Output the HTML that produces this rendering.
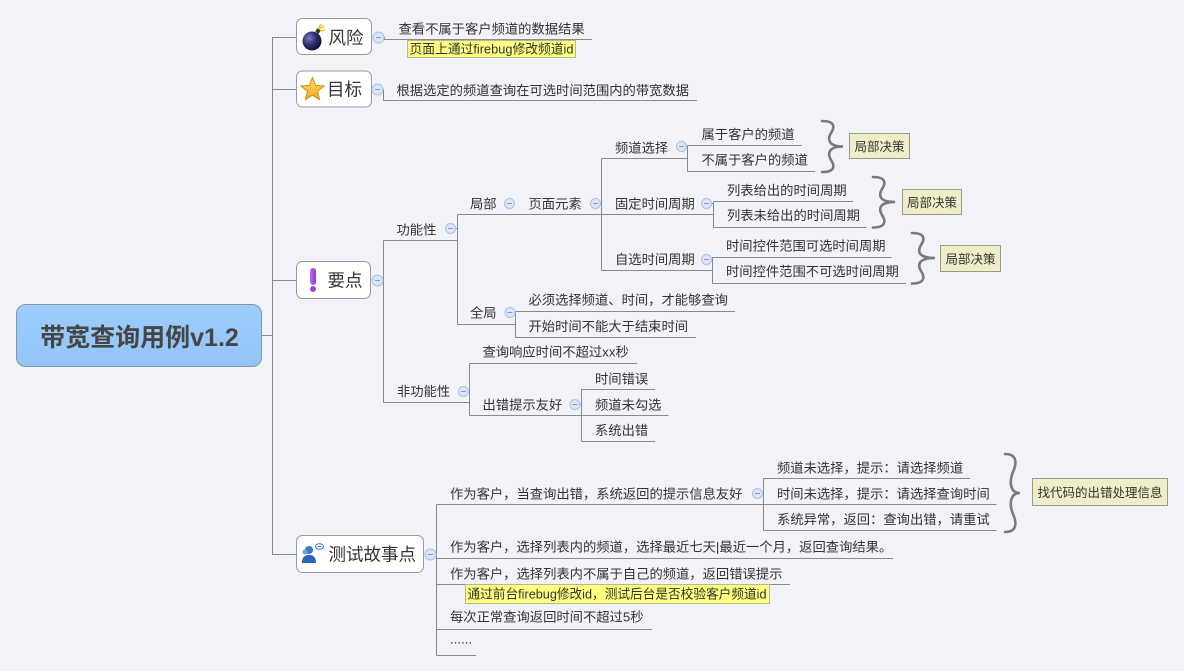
<!DOCTYPE html>
<html><head><meta charset="utf-8"><style>
html,body{margin:0;padding:0;background:#f2f3f9;}
svg{display:block;font-family:"Liberation Sans","Noto Sans CJK SC",sans-serif;}
text{fill:#333;}
</style></head><body>
<svg width="1184" height="671" viewBox="0 0 1184 671" xmlns="http://www.w3.org/2000/svg">
<defs>
<radialGradient id="bomb" cx="0.35" cy="0.35" r="0.7"><stop offset="0" stop-color="#7a80c0"/><stop offset="0.5" stop-color="#2e3270"/><stop offset="1" stop-color="#101230"/></radialGradient>
<linearGradient id="star" x1="0" y1="0" x2="0" y2="1"><stop offset="0" stop-color="#ffe066"/><stop offset="1" stop-color="#f3a521"/></linearGradient>
<linearGradient id="purp" x1="0" y1="0" x2="1" y2="0"><stop offset="0" stop-color="#b86cf0"/><stop offset="1" stop-color="#8a3ad8"/></linearGradient>
<linearGradient id="root" x1="0" y1="0" x2="0" y2="1"><stop offset="0" stop-color="#9dcdfd"/><stop offset="1" stop-color="#94c5f8"/></linearGradient>
</defs>

<rect width="1184" height="671" fill="#f2f3f9"/>

<g stroke="#8a8a8a" stroke-width="1" fill="none">
<!-- main trunk -->
<line x1="262" y1="335.5" x2="272.5" y2="335.5"/>
<line x1="272.5" y1="37" x2="272.5" y2="555"/>
<line x1="272.5" y1="37.5" x2="296" y2="37.5"/>
<line x1="272.5" y1="89.5" x2="296" y2="89.5"/>
<line x1="272.5" y1="280.5" x2="296" y2="280.5"/>
<line x1="272.5" y1="554.5" x2="296" y2="554.5"/>

<!-- 风险 -->
<polyline points="383.5,37.5 384.5,37.5 384.5,39.5 592,39.5"/>
<!-- 目标 -->
<polyline points="382.5,89.5 383.5,89.5 383.5,100.5 697,100.5"/>

<!-- 要点 -->
<line x1="382.5" y1="280.5" x2="383.5" y2="280.5"/>
<line x1="383.5" y1="240.5" x2="383.5" y2="402.5"/>
<line x1="383.5" y1="240.5" x2="457.5" y2="240.5"/>
<line x1="383.5" y1="402.5" x2="469.5" y2="402.5"/>
<line x1="455.5" y1="228.5" x2="457.5" y2="228.5"/>
<line x1="457.5" y1="214.5" x2="457.5" y2="324.5"/>
<line x1="457.5" y1="214.5" x2="601.5" y2="214.5"/>
<line x1="457.5" y1="324.5" x2="515.5" y2="324.5"/>
<line x1="600.5" y1="203.5" x2="601.5" y2="203.5"/>
<line x1="601.5" y1="158.5" x2="601.5" y2="270.5"/>
<line x1="601.5" y1="158.5" x2="687.5" y2="158.5"/>
<line x1="601.5" y1="214.5" x2="713.5" y2="214.5"/>
<line x1="601.5" y1="270.5" x2="712.5" y2="270.5"/>
<line x1="686.5" y1="146.5" x2="687.5" y2="146.5"/>
<line x1="687.5" y1="145.5" x2="687.5" y2="171.5"/>
<line x1="687.5" y1="145.5" x2="801.5" y2="145.5"/>
<line x1="687.5" y1="171.5" x2="815" y2="171.5"/>
<line x1="711.5" y1="203.5" x2="713.5" y2="203.5"/>
<line x1="713.5" y1="201.5" x2="713.5" y2="227.5"/>
<line x1="713.5" y1="201.5" x2="853" y2="201.5"/>
<line x1="713.5" y1="227.5" x2="866.5" y2="227.5"/>
<line x1="711.5" y1="259.5" x2="712.5" y2="259.5"/>
<line x1="712.5" y1="257.5" x2="712.5" y2="283.5"/>
<line x1="712.5" y1="257.5" x2="891.5" y2="257.5"/>
<line x1="712.5" y1="283.5" x2="906" y2="283.5"/>
<line x1="515" y1="312.5" x2="515.5" y2="312.5"/>
<line x1="515.5" y1="311.5" x2="515.5" y2="337.5"/>
<line x1="515.5" y1="311.5" x2="735" y2="311.5"/>
<line x1="515.5" y1="337.5" x2="696" y2="337.5"/>
<line x1="468.5" y1="391.5" x2="469.5" y2="391.5"/>
<line x1="469.5" y1="363.5" x2="469.5" y2="415.5"/>
<line x1="469.5" y1="363.5" x2="637" y2="363.5"/>
<line x1="469.5" y1="415.5" x2="581.5" y2="415.5"/>
<line x1="580" y1="404.5" x2="581.5" y2="404.5"/>
<line x1="581.5" y1="389.5" x2="581.5" y2="441.5"/>
<line x1="581.5" y1="389.5" x2="655" y2="389.5"/>
<line x1="581.5" y1="415.5" x2="668.5" y2="415.5"/>
<line x1="581.5" y1="441.5" x2="655" y2="441.5"/>

<!-- 测试故事点 -->
<line x1="435.5" y1="554.5" x2="436.5" y2="554.5"/>
<line x1="436.5" y1="504.5" x2="436.5" y2="655.5"/>
<line x1="436.5" y1="504.5" x2="763.5" y2="504.5"/>
<line x1="436.5" y1="558.5" x2="893" y2="558.5"/>
<line x1="436.5" y1="584.5" x2="790" y2="584.5"/>
<line x1="436.5" y1="629.5" x2="652" y2="629.5"/>
<line x1="436.5" y1="655.5" x2="476" y2="655.5"/>
<line x1="762.5" y1="493.5" x2="763.5" y2="493.5"/>
<line x1="763.5" y1="478.5" x2="763.5" y2="530.5"/>
<line x1="763.5" y1="478.5" x2="970" y2="478.5"/>
<line x1="763.5" y1="504.5" x2="996.5" y2="504.5"/>
<line x1="763.5" y1="530.5" x2="996.5" y2="530.5"/>
</g>

<!-- braces -->
<g stroke="#7a7a7a" stroke-width="2.6" fill="none" stroke-linecap="round">
<path d="M822,121 C835,121 835,127 831,133 C827,140 829,146.5 843,146.5 C829,146.5 827,153 831,160 C835,166 835,172 822,172"/>
<path d="M873,177 C886,177 886,183 882,189 C878,196 880,202 895,202 C880,202 878,208 882,215 C886,221 886,227.5 873,227.5"/>
<path d="M912,233 C925,233 925,239 921,245 C917,252 919,258 935,258 C919,258 917,264 921,271 C925,277 925,283.5 912,283.5"/>
<path d="M1005,454 C1017,454 1017,463 1013,472 C1009,482 1010,493 1020,493 C1010,493 1009,504 1013,514 C1017,523 1017,532 1005,532"/>
</g>

<!-- root -->
<rect x="16.5" y="304.5" width="245" height="62" rx="9" fill="url(#root)" stroke="#8797a8"/>
<text x="139.5" y="346" text-anchor="middle" font-size="25" font-weight="bold" style="fill:#464646">带宽查询用例v1.2</text>

<!-- level1 boxes -->
<g fill="#fff" stroke="#9a9a9a">
<rect x="296.5" y="18.5" width="75" height="36" rx="6"/>
<rect x="296.5" y="71" width="75" height="36" rx="6"/>
<rect x="296.5" y="261.5" width="74" height="37" rx="6"/>
<rect x="296.5" y="535.5" width="127" height="37" rx="6"/>
</g>

<!-- icons -->
<circle cx="312" cy="41" r="9.5" fill="url(#bomb)"/>
<rect x="316" y="29" width="4" height="4" fill="#333" transform="rotate(40 318 31)"/>
<path d="M319,29 L324,26 M320,31 L325,30 M319,28 L321,24" stroke="#f2c200" stroke-width="1.5"/>
<polygon points="312.5,77.5 315.6,85.4 324,86 317.5,91.4 319.6,99.7 312.5,95.1 305.4,99.7 307.5,91.4 301,86 309.4,85.4" fill="url(#star)" stroke="#d08a10" stroke-width="1"/>
<rect x="310" y="268" width="6" height="17" rx="3" fill="url(#purp)"/>
<circle cx="313" cy="289" r="3" fill="#9a48e0"/>
<circle cx="309" cy="550" r="4" fill="#3b78cf"/>
<path d="M302,563 C302,556 306,555 309,555 C312,555 316,556 316,563 Z" fill="#2d63b8"/>
<circle cx="305" cy="552" r="2.5" fill="#6a9de0"/>
<ellipse cx="319.5" cy="546.5" rx="4" ry="2.8" fill="#fff" stroke="#3a6fc0" stroke-width="1"/>
<path d="M317.5,546.5 L321.5,546.5" stroke="#3a6fc0" stroke-width="0.8"/>

<!-- level1 text -->
<g font-size="17.5">
<text x="328.5" y="44">风险</text>
<text x="327" y="95.7">目标</text>
<text x="327.5" y="286.7">要点</text>
<text x="328.5" y="560.7">测试故事点</text>
</g>

<!-- collapse circles -->
<g fill="#dce6f6" stroke="#a9c0e6" stroke-width="1">
<circle cx="378.5" cy="37.5" r="5.5"/>
<circle cx="377.5" cy="89.5" r="5.5"/>
<circle cx="377.5" cy="280.5" r="5.5"/>
<circle cx="430.5" cy="554.5" r="5.5"/>
<circle cx="450.5" cy="228.5" r="5"/>
<circle cx="509.5" cy="203.5" r="5"/>
<circle cx="595.5" cy="203.5" r="5"/>
<circle cx="681.5" cy="146.5" r="5"/>
<circle cx="706.5" cy="203.5" r="5"/>
<circle cx="706.5" cy="259.5" r="5"/>
<circle cx="510" cy="312.5" r="5"/>
<circle cx="463.5" cy="391.5" r="5"/>
<circle cx="575" cy="404.5" r="5"/>
<circle cx="757.5" cy="493.5" r="5"/>
</g>
<g stroke="#7f9ccf" stroke-width="1">
<line x1="376" y1="37.5" x2="381" y2="37.5"/>
<line x1="375" y1="89.5" x2="380" y2="89.5"/>
<line x1="375" y1="280.5" x2="380" y2="280.5"/>
<line x1="428" y1="554.5" x2="433" y2="554.5"/>
<line x1="448" y1="228.5" x2="453" y2="228.5"/>
<line x1="507" y1="203.5" x2="512" y2="203.5"/>
<line x1="593" y1="203.5" x2="598" y2="203.5"/>
<line x1="679" y1="146.5" x2="684" y2="146.5"/>
<line x1="704" y1="203.5" x2="709" y2="203.5"/>
<line x1="704" y1="259.5" x2="709" y2="259.5"/>
<line x1="507.5" y1="312.5" x2="512.5" y2="312.5"/>
<line x1="461" y1="391.5" x2="466" y2="391.5"/>
<line x1="572.5" y1="404.5" x2="577.5" y2="404.5"/>
<line x1="755" y1="493.5" x2="760" y2="493.5"/>
</g>

<!-- yellow notes -->
<rect x="407.5" y="40.5" width="168" height="17" fill="#ffff80" stroke="#b8b890"/>
<rect x="465.5" y="584.5" width="304" height="19" fill="#ffff80" stroke="#b8b890"/>
<text x="409.5" y="53.6" font-size="13.3" textLength="164" lengthAdjust="spacingAndGlyphs">页面上通过firebug修改频道id</text>
<text x="467.5" y="598.6" font-size="13.3" textLength="299" lengthAdjust="spacingAndGlyphs">通过前台firebug修改id，测试后台是否校验客户频道id</text>

<!-- beige label boxes -->
<g fill="#f0eec8" stroke="#9a9a8a">
<rect x="849.5" y="133.5" width="60" height="25"/>
<rect x="902.5" y="189.5" width="59" height="25"/>
<rect x="940.5" y="245.5" width="60" height="26"/>
<rect x="1032.5" y="478.5" width="135" height="27"/>
</g>
<g font-size="12.5" text-anchor="middle">
<text x="879.5" y="150.8">局部决策</text>
<text x="932" y="206.8">局部决策</text>
<text x="970.5" y="263.3">局部决策</text>
<text x="1100" y="496.8">找代码的出错处理信息</text>
</g>

<!-- node texts -->
<g font-size="13.3">
<text x="398.5" y="33.3">查看不属于客户频道的数据结果</text>
<text x="396.5" y="95">根据选定的频道查询在可选时间范围内的带宽数据</text>

<text x="396.5" y="234.3">功能性</text>
<text x="470" y="208.3">局部</text>
<text x="528.5" y="208.3">页面元素</text>
<text x="615" y="152.3">频道选择</text>
<text x="615" y="208.3">固定时间周期</text>
<text x="615" y="264">自选时间周期</text>
<text x="701.5" y="139">属于客户的频道</text>
<text x="701.5" y="164.3">不属于客户的频道</text>
<text x="727" y="195">列表给出的时间周期</text>
<text x="727" y="220">列表未给出的时间周期</text>
<text x="726" y="250.7">时间控件范围可选时间周期</text>
<text x="726" y="276">时间控件范围不可选时间周期</text>
<text x="470" y="317.7">全局</text>
<text x="528.5" y="304.3">必须选择频道、时间，才能够查询</text>
<text x="528.5" y="331">开始时间不能大于结束时间</text>
<text x="397" y="396">非功能性</text>
<text x="482.5" y="356.7">查询响应时间不超过xx秒</text>
<text x="482.5" y="409.3">出错提示友好</text>
<text x="595" y="383.3">时间错误</text>
<text x="595" y="409.3">频道未勾选</text>
<text x="595" y="435">系统出错</text>

<text x="450" y="498.3">作为客户，当查询出错，系统返回的提示信息友好</text>
<text x="777" y="472.7">频道未选择，提示：请选择频道</text>
<text x="777" y="498.3">时间未选择，提示：请选择查询时间</text>
<text x="777" y="524">系统异常，返回：查询出错，请重试</text>
<text x="450" y="551.7">作为客户，选择列表内的频道，选择最近七天|最近一个月，返回查询结果。</text>
<text x="450" y="578.3">作为客户，选择列表内不属于自己的频道，返回错误提示</text>
<text x="450" y="621.7">每次正常查询返回时间不超过5秒</text>
<text x="450" y="643.5">......</text>
</g>
</svg>
</body></html>
